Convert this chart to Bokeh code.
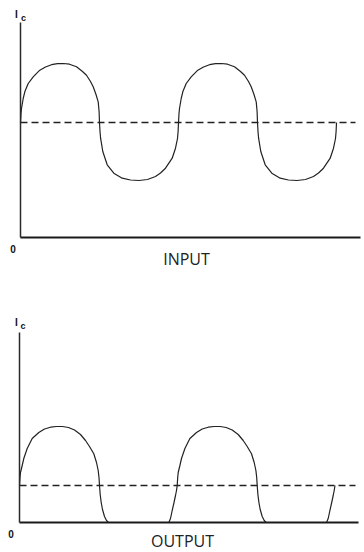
from bokeh.plotting import figure
from bokeh.models import Range1d, LinearAxis, FixedTicker
from bokeh.core.properties import value
from bokeh.layouts import column
from bokeh.embed import file_html
from bokeh.resources import INLINE

# ---- data ----
# INPUT: collector current Ic versus time (arbitrary units)
in_t = [0, 0.5, 1, 2.7, 4.3, 7.7, 12.7, 19.3, 25, 31, 37, 43, 49, 56, 62, 66, 70, 72.7, 75.5, 77.7, 78.6, 79,
        79.5, 80.1, 82.3, 86.7, 93.3, 101.7, 110, 118.5, 127, 135, 140, 145, 151.7, 155, 157, 157.6, 158,
        158.5, 159, 160.7, 162.3, 165.7, 170.7, 177.3, 183, 189, 195, 201, 207, 214, 220, 224, 228, 230.7,
        233.5, 235.7, 236.6, 237,
        237.5, 238.1, 240.3, 244.7, 251.3, 259.7, 268, 276.5, 285, 293, 298, 303, 309.7, 313, 315, 315.6, 316]
in_ic = [115, 124, 129, 139, 145.7, 154, 160.7, 167.3, 170.5, 172.8, 173.8, 174, 173.3, 170.7, 166, 162.3, 156,
         150.7, 143, 135.7, 126, 115,
         106, 99.3, 86, 72.7, 64.3, 59.3, 57.5, 57, 58, 61, 64.5, 69.3, 79.3, 89.3, 99, 106, 115,
         124, 129, 139, 145.7, 154, 160.7, 167.3, 170.5, 172.8, 173.8, 174, 173.3, 170.7, 166, 162.3, 156,
         150.7, 143, 135.7, 126, 115,
         106, 99.3, 86, 72.7, 64.3, 59.3, 57.5, 57, 58, 61, 64.5, 69.3, 79.3, 89.3, 99, 106, 115]
in_bias_t = [0, 335]
in_bias = [115, 115]

# OUTPUT: clipped collector current
out_t = [0, 0.5, 1, 2.7, 4.3, 7.7, 12.7, 19.3, 25, 31, 37, 43, 49, 55, 61, 66, 70, 74.3, 77, 78.7, 79.5, 80,
         80.7, 81.7, 83, 85, 87, 89, 149.3, 151, 152.7, 154.5, 156, 157, 157.7,
         158.2, 158.7, 160.4, 162, 165.4, 170.4, 177, 182.7, 188.7, 194.7, 200.7, 206.7, 212.7, 218.7, 223.7,
         227.7, 232, 234.7, 236.4, 237.2, 237.7,
         238.4, 239.4, 240.7, 242.7, 244.7, 246.7, 307, 308.7, 310.4, 312.2, 313.7, 314.7, 315.5]
out_ic = [37, 45, 50, 57, 64, 74, 84, 90, 93.5, 95.3, 96, 96, 95, 92.5, 88, 82, 76, 68.7, 60, 52, 45, 37,
          28, 20, 13, 6, 2, 0, 0, 4, 12, 20, 27, 32, 37,
          45, 50, 57, 64, 74, 84, 90, 93.5, 95.3, 96, 96, 95, 92.5, 88, 82, 76, 68.7, 60, 52, 45, 37,
          28, 20, 13, 6, 2, 0, 0, 4, 12, 20, 27, 32, 37]
out_bias_t = [0, 336]
out_bias = [37, 37]

in_title = "INPUT"
out_title = "OUTPUT"
y_sym = "I"
y_sub = "c"
origin = "0"

CURVE = "#222222"


def make_panel(t, ic, bt, b, xr, yr, xb, yb, caption, cap_size, lab):
    p = figure(width=364, height=276, x_range=Range1d(*xr), y_range=Range1d(*yr),
               output_backend="svg", toolbar_location=None, x_axis_type=None, y_axis_type=None,
               min_border=0, min_border_left=0, min_border_right=0, min_border_top=0, min_border_bottom=0,
               background_fill_color="white", border_fill_color="white")
    p.outline_line_color = None
    xa = LinearAxis(ticker=FixedTicker(ticks=[]), major_tick_out=0, major_tick_in=0,
                    minor_tick_out=0, minor_tick_in=0, major_label_text_font_size="0px",
                    axis_line_width=2, axis_line_color="#1a1a1a", fixed_location=0, bounds=xb)
    ya = LinearAxis(ticker=FixedTicker(ticks=[]), major_tick_out=0, major_tick_in=0,
                    minor_tick_out=0, minor_tick_in=0, major_label_text_font_size="0px",
                    axis_line_width=1.5, axis_line_color="#2a2a2a", fixed_location=0, bounds=yb)
    p.add_layout(xa, "below")
    p.add_layout(ya, "left")
    p.line(bt, b, line_color=CURVE, line_width=1.4, line_dash="7 4")
    p.line(t, ic, line_color=CURVE, line_width=1.2)
    (ix, iy), (cx, cy), (ox, oy), (tx, ty) = lab
    p.text(x=[ix], y=[iy], text=[y_sym], text_font=value("Liberation Sans"), text_font_style="bold",
           text_font_size="10px", text_align="center", text_baseline="middle", text_color="#111")
    p.text(x=[cx], y=[cy], text=[y_sub], text_font=value("Liberation Sans"), text_font_style="bold",
           text_font_size="9px", text_align="center", text_baseline="middle", text_color="#111")
    p.text(x=[ox], y=[oy], text=[origin], text_font=value("Liberation Sans"), text_font_style="bold",
           text_font_size="10px", text_align="center", text_baseline="middle", text_color="#111")
    p.text(x=[tx], y=[ty], text=[caption], text_font=value("Open Sans"),
           text_font_size=cap_size, text_align="center", text_baseline="middle", text_color="#222")
    return p


p1 = make_panel(in_t, in_ic, in_bias_t, in_bias, (-20, 344), (-39, 237), (0, 340), (0, 215), in_title, "16px",
                [(-4, 223.5), (3, 220), (-7.5, -11.5), (166, -21)])
p2 = make_panel(out_t, out_ic, out_bias_t, out_bias, (-19, 345), (-30, 246), (0, 339), (0, 190), out_title, "16px",
                [(-3, 200), (3.5, 196.5), (-8.5, -11.5), (163, -18)])

layout = column(p1, p2)
open("out.html", "w").write(file_html(layout, INLINE))
